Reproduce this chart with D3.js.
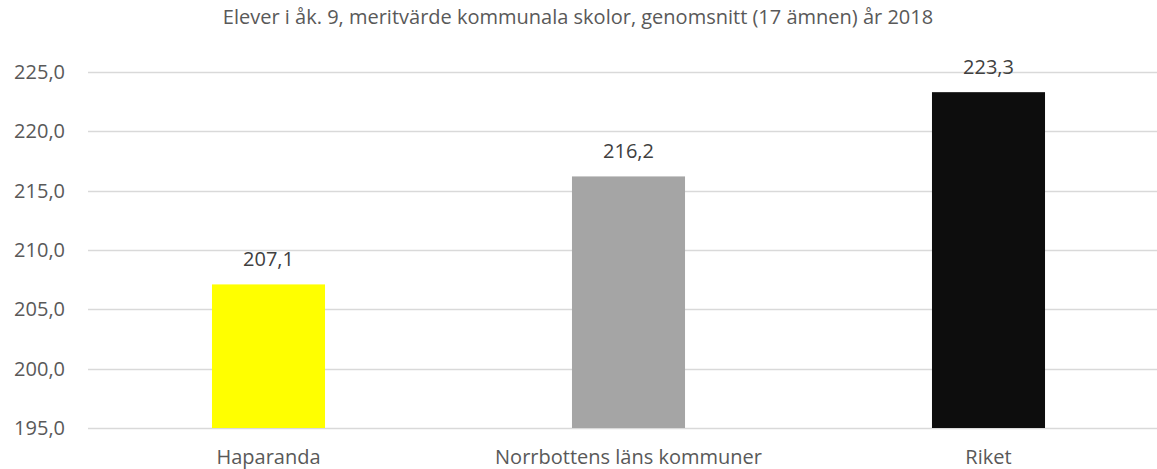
<!DOCTYPE html>
<html lang="sv">
<head>
<meta charset="utf-8">
<title>Meritvärde</title>
<script src="https://d3js.org/d3.v7.min.js"></script>
<style>
  body { margin: 0; background: #fff; }
  text { font-family: "Open Sans", "Liberation Sans", sans-serif; }
</style>
</head>
<body>
<div id="chart"></div>
<script>
const categories = ["Haparanda", "Norrbottens läns kommuner", "Riket"];
const values = [207.1, 216.2, 223.3];
const colors = ["#ffff00", "#a5a5a5", "#0d0d0d"];
const yTicks = [195, 200, 205, 210, 215, 220, 225];
const title = "Elever i åk. 9, meritvärde kommunala skolor, genomsnitt (17 ämnen) år 2018";

const width = 1157, height = 469;
const svg = d3.select("#chart").append("svg")
  .attr("width", width).attr("height", height);

const fmt = v => d3.format(".1f")(v).replace(".", ",");

const x = d3.scaleBand().domain(categories).range([88.5, 1168.5]).paddingInner(0.686).paddingOuter(0.343);
const y = d3.scaleLinear().domain([195, 225]).range([428, 72]);

// gridlines
svg.append("g")
  .selectAll("line")
  .data(yTicks)
  .join("line")
  .attr("x1", 88).attr("x2", width)
  .attr("y1", d => Math.round(y(d)) + 0.5).attr("y2", d => Math.round(y(d)) + 0.5)
  .attr("stroke", "#d9d9d9").attr("stroke-width", 1.3);

// y labels
svg.append("g")
  .attr("font-size", 20).attr("fill", "#595959").attr("text-anchor", "end")
  .selectAll("text")
  .data(yTicks)
  .join("text")
  .attr("x", 65).attr("y", d => y(d)).attr("dy", "0.35em")
  .text(fmt);

// bars
svg.append("g")
  .selectAll("rect")
  .data(categories)
  .join("rect")
  .attr("x", d => x(d)).attr("width", x.bandwidth())
  .attr("y", (d, i) => y(values[i])).attr("height", (d, i) => y(195) - y(values[i]))
  .attr("fill", (d, i) => colors[i]);

// value labels
svg.append("g")
  .attr("font-size", 20).attr("fill", "#404040").attr("text-anchor", "middle")
  .selectAll("text")
  .data(categories)
  .join("text")
  .attr("x", d => x(d) + x.bandwidth() / 2).attr("y", (d, i) => y(values[i]) - 18)
  .text((d, i) => fmt(values[i]));

// category labels
svg.append("g")
  .attr("font-size", 20).attr("fill", "#595959").attr("text-anchor", "middle")
  .selectAll("text")
  .data(categories)
  .join("text")
  .attr("x", d => x(d) + x.bandwidth() / 2).attr("y", 464)
  .text(d => d);

svg.append("text")
  .attr("x", 578).attr("y", 24)
  .attr("text-anchor", "middle").attr("font-size", 20).attr("fill", "#595959")
  .text(title);
</script>
</body>
</html>
